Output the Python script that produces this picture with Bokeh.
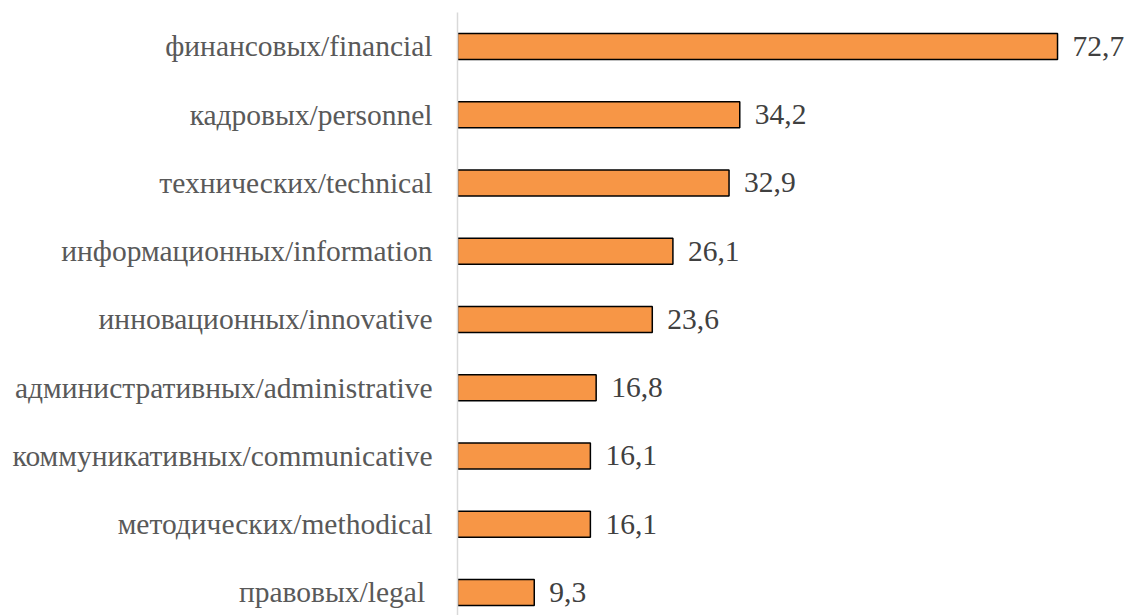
from bokeh.plotting import figure
from bokeh.models import Range1d, FixedTicker, ColumnDataSource
from bokeh.core.properties import value
from bokeh.embed import file_html
from bokeh.resources import INLINE

categories = [
    "финансовых/financial",
    "кадровых/personnel",
    "технических/technical",
    "информационных/information",
    "инновационных/innovative",
    "административных/administrative",
    "коммуникативных/communicative",
    "методических/methodical",
    "правовых/legal\u00a0",
]
values = [72.7, 34.2, 32.9, 26.1, 23.6, 16.8, 16.1, 16.1, 9.3]
value_labels = ["72,7", "34,2", "32,9", "26,1", "23,6", "16,8", "16,1", "16,1", "9,3"]

n = len(categories)
ypos = [n - 1 - i for i in range(n)]

src = ColumnDataSource(dict(y=ypos, v=values, lab=value_labels, cat=categories))

FONT = "Liberation Serif"

p = figure(width=1129, height=615, output_backend="svg", toolbar_location=None,
           x_range=Range1d(0, 81.42), y_range=Range1d(-0.337, 8.498),
           min_border_left=457, min_border_top=12, min_border_bottom=0, min_border_right=0)
p.outline_line_color = None
p.xgrid.visible = False
p.ygrid.visible = False
p.xaxis.visible = False

p.hbar(y="y", left=0, right="v", height=0.38, source=src,
       fill_color="#F79646", line_color="black", line_width=1.5)

p.text(x="v", y="y", text="lab", source=src, x_offset=15,
       text_font=value(FONT), text_font_size="29.5px", text_color="#404040",
       text_baseline="middle", text_align="left")

ax = p.yaxis[0]
ax.ticker = FixedTicker(ticks=ypos)
ax.major_label_overrides = {yy: c for yy, c in zip(ypos, categories)}
ax.major_label_text_font = FONT
ax.major_label_text_font_size = "29.5px"
ax.major_label_text_color = "#595959"
ax.major_tick_line_color = None
ax.minor_tick_line_color = None
ax.major_tick_out = 0
ax.major_tick_in = 0
ax.major_label_standoff = 25
ax.axis_line_color = "#D9D9D9"
ax.axis_line_width = 1.5

open("out.html", "w").write(file_html(p, INLINE))
